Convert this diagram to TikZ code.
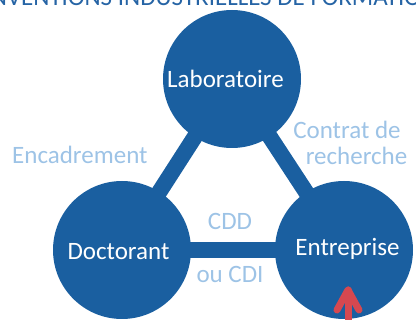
\documentclass[tikz,border=0pt]{standalone}
\usepackage{fontspec}
\setmainfont{Carlito}
\usetikzlibrary{backgrounds}
\definecolor{cblue}{RGB}{26,95,160}
\definecolor{ctitle}{RGB}{38,100,165}
\definecolor{clight}{RGB}{157,195,230}
\definecolor{cred}{RGB}{214,72,80}
\tikzset{
  bubble/.style={circle, fill=cblue, minimum size=138pt, inner sep=0pt},
  bubbletext/.style={text=white, font=\fontsize{25}{30}\selectfont, anchor=base, inner sep=0pt},
  linklabel/.style={text=clight, font=\fontsize{25}{30}\selectfont, anchor=base, inner sep=0pt},
  link/.style={draw=cblue, line width=16pt},
  redarrow/.style={draw=cred, line width=7pt, line cap=round, line join=round}
}
\begin{document}
\begin{tikzpicture}[x=1pt,y=-1pt]
\useasboundingbox (0,0) rectangle (416,320);
\clip (0,0) rectangle (416,320);
% title (cut at top)
\node[text=ctitle, font=\fontsize{25}{30}\selectfont, anchor=base west, inner sep=0pt] (title) at (-39,6) {CONVENTIONS INDUSTRIELLES DE FORMATION};
% circles
\node[bubble] (lab) at (232,79) {};
\node[bubble] (doc) at (122,250) {};
\node[bubble] (ent) at (344,250) {};
\begin{scope}[on background layer]
\draw[link] (lab.center) -- (doc.center);
\draw[link] (lab.center) -- (ent.center);
\draw[link] (doc.center) -- (ent.center);
\end{scope}
% texts in circles
\node[bubbletext] (labt) at (225.5,88) {Laboratoire};
\node[bubbletext] (doct) at (118.5,260) {Doctorant};
\node[bubbletext] (entt) at (347.5,256) {Entreprise};
% link labels
\node[linklabel, anchor=base west] (enc) at (12,164) {Encadrement};
\node[linklabel] (ctr1) at (347,139) {Contrat de};
\node[linklabel] (ctr2) at (356.5,165) {recherche};
\node[linklabel] (cdd) at (230,230) {CDD};
\node[linklabel] (cdi) at (230,283) {ou CDI};
% red arrow
\coordinate (abase) at (348,330);
\coordinate (atip) at (348,290);
\coordinate (aleft) at (337,310);
\coordinate (aright) at (359,310);
\draw[redarrow] (abase) -- (atip);
\draw[redarrow] (aleft) -- (atip) -- (aright);
\end{tikzpicture}
\end{document}
